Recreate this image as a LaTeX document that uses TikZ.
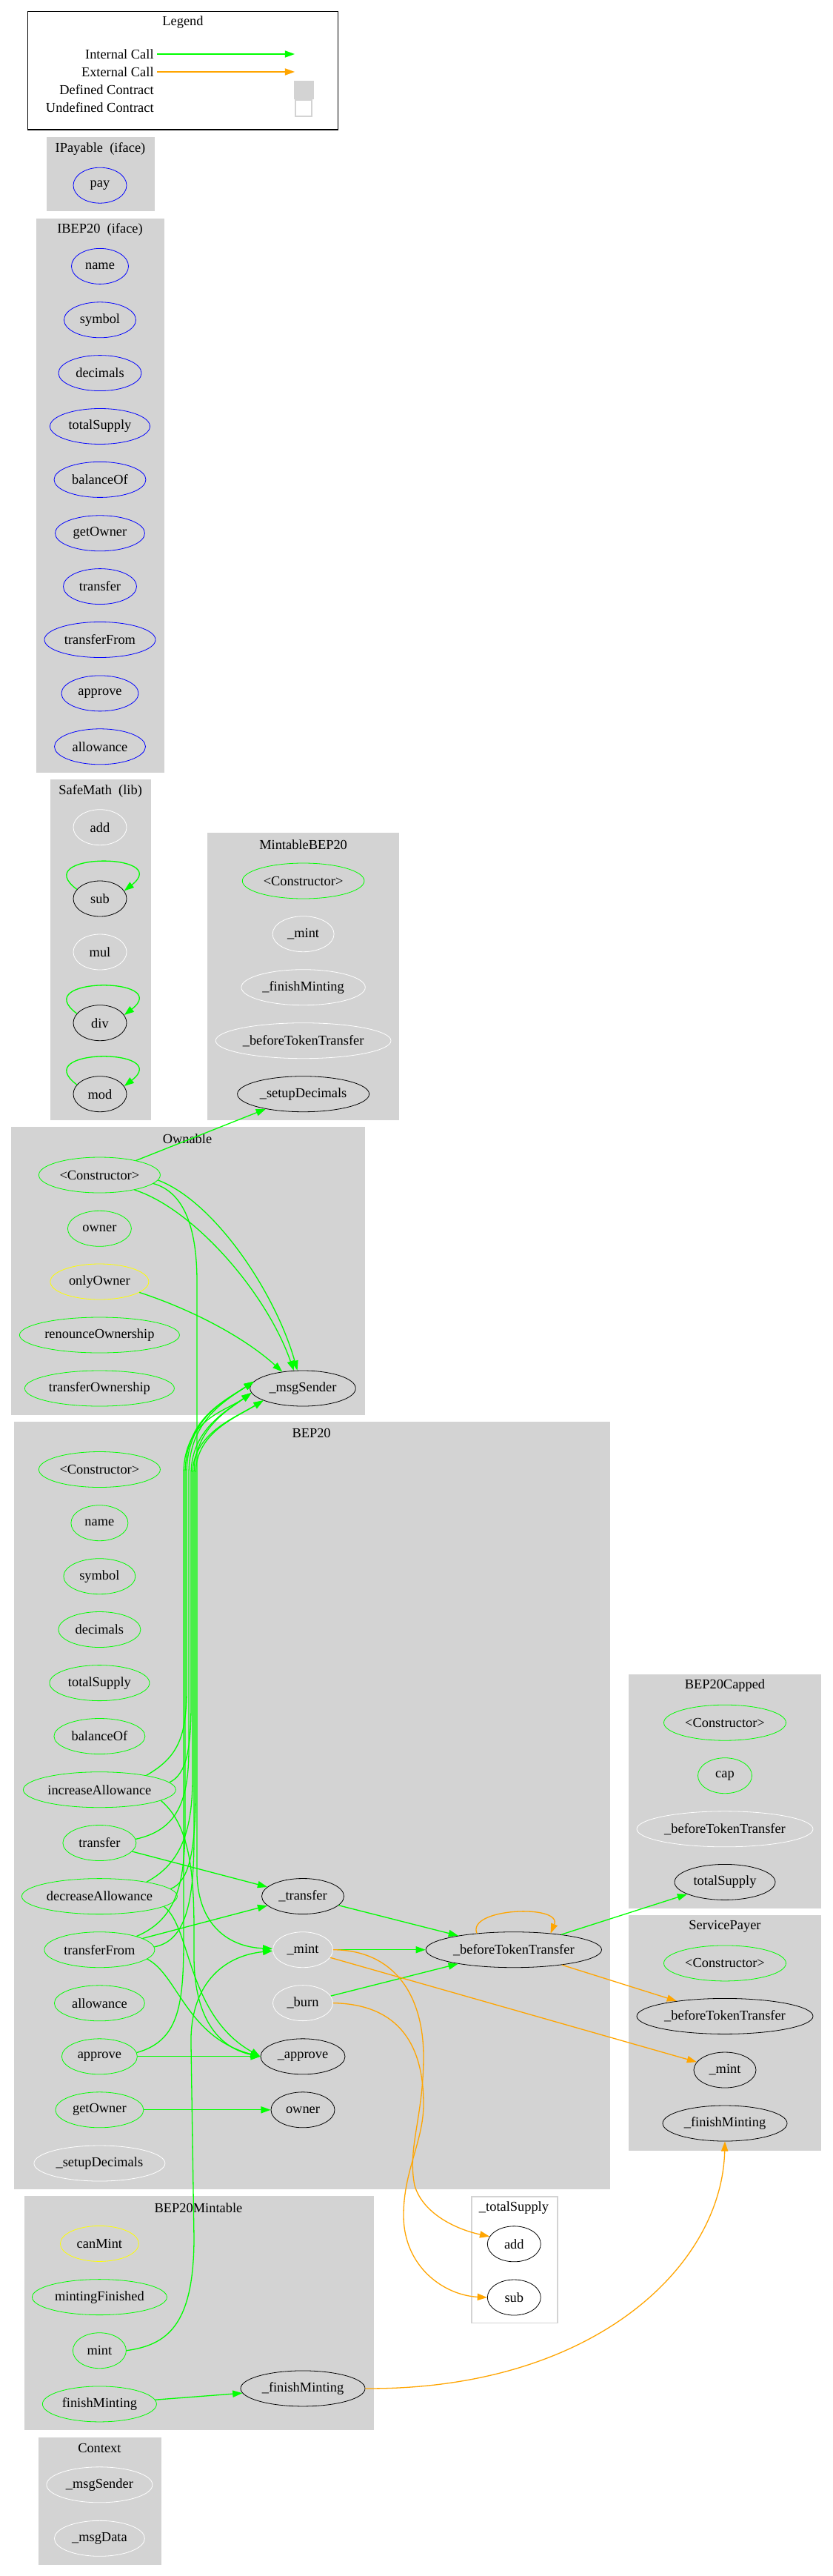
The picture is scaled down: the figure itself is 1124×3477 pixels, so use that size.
\documentclass[tikz,border=0pt]{standalone}
\usepackage{fontspec}
\setmainfont{Liberation Serif}
\usepackage{xcolor}
\usepackage{tikz}
\usetikzlibrary{shapes.geometric,arrows.meta}
\definecolor{GvGreen}{HTML}{00FF00}
\definecolor{GvOrange}{HTML}{FFA500}
\definecolor{GvBlue}{HTML}{0000FF}
\definecolor{GvYellow}{HTML}{FFFF00}
\definecolor{GvGray}{HTML}{D3D3D3}
\newcommand{\gvfont}{\fontsize{9.2pt}{11pt}\selectfont}

\begin{document}
\begin{tikzpicture}[x=0.5pt,y=-0.5pt,
    every node/.style={font=\gvfont},
    fn/.style={ellipse,draw,inner sep=0pt,minimum height=24pt},
    ttl/.style={inner sep=0pt},
    cluster/.style={fill=GvGray,draw=GvGray},
    call/.style={-{Triangle[length=6.6pt,width=4.6pt]},draw=GvGreen,line width=0.65pt},
    ext/.style={call,draw=GvOrange}]
  \fill[white] (0,0) rectangle (1124,3477);
  \useasboundingbox (0,0) rectangle (1124,3477);

  % legend
  \draw[line width=0.7pt] (37.7,15.7) rectangle (456.7,175);
  \node[ttl] (lg-title) at (247,30) {Legend};
  \node[ttl,anchor=east] (lg-int) at (208,73) {Internal Call};
  \node[ttl,anchor=east] (lg-ext) at (208,97) {External Call};
  \node[ttl,anchor=east] (lg-def) at (208,121) {Defined Contract};
  \node[ttl,anchor=east] (lg-undef) at (208,145) {Undefined Contract};
  \coordinate (lg-int-a) at (212,73); \coordinate (lg-int-b) at (398,73);
  \coordinate (lg-ext-a) at (212,97); \coordinate (lg-ext-b) at (398,97);
  \draw[call] (lg-int-a) -- (lg-int-b);
  \draw[ext] (lg-ext-a) -- (lg-ext-b);
  \draw[cluster] (397,109) rectangle (423,133);
  \draw[draw=GvGray,line width=0.8pt] (399,135) rectangle (421,157);

  % clusters
  \draw[cluster] (63,185.5) rectangle (208,284.8);
  \draw[cluster] (49,295) rectangle (221,1042);
  \draw[cluster] (67.9,1052.7) rectangle (203.6,1511.7);
  \draw[cluster] (280.4,1124.3) rectangle (538.6,1511.7);
  \draw[cluster] (15.2,1521.7) rectangle (492,1909.3);
  \draw[cluster] (19,1919.3) rectangle (823.8,2954.5);
  \draw[cluster] (33,2964.4) rectangle (504,3279.8);
  \draw[draw=GvGray,line width=0.8pt] (636.8,2965) rectangle (752.8,3135.6);
  \draw[cluster] (52,3290) rectangle (217.3,3461.3);
  \draw[cluster] (849.3,2260.7) rectangle (1108.3,2575.6);
  \draw[cluster] (849.3,2585.4) rectangle (1108.3,2902);

  \node[ttl] (t-ipay) at (135.5,200.8) {IPayable~~(iface)};
  \node[ttl] (t-ibep) at (135,310) {IBEP20~~(iface)};
  \node[ttl] (t-safe) at (135.7,1068.3) {SafeMath~~(lib)};
  \node[ttl] (t-mbep) at (409.6,1140) {MintableBEP20};
  \node[ttl] (t-own) at (253,1536.7) {Ownable};
  \node[ttl] (t-bep) at (420.6,1934) {BEP20};
  \node[ttl] (t-bmint) at (268,2980) {BEP20Mintable};
  \node[ttl] (t-tsup) at (694,2980.2) {\_totalSupply};
  \node[ttl] (t-ctx) at (134.4,3304.8) {Context};
  \node[ttl] (t-cap) at (979,2275.3) {BEP20Capped};
  \node[ttl] (t-pay) at (979,2600.5) {ServicePayer};

  % IPayable, IBEP20
  \node[fn,draw=GvBlue,minimum width=36pt] (ip-pay) at (135,250.2) {pay};
  \node[fn,draw=GvBlue,minimum width=38.5pt] (ib-name) at (135,359.4) {name};
  \node[fn,draw=GvBlue,minimum width=48.5pt] (ib-symbol) at (135,431.8) {symbol};
  \node[fn,draw=GvBlue,minimum width=56pt] (ib-decimals) at (135,503.6) {decimals};
  \node[fn,draw=GvBlue,minimum width=67.5pt] (ib-totalSupply) at (135,575.5) {totalSupply};
  \node[fn,draw=GvBlue,minimum width=62pt] (ib-balanceOf) at (135,647.4) {balanceOf};
  \node[fn,draw=GvBlue,minimum width=60.5pt] (ib-getOwner) at (135,719.8) {getOwner};
  \node[fn,draw=GvBlue,minimum width=49.5pt] (ib-transfer) at (135,791.6) {transfer};
  \node[fn,draw=GvBlue,minimum width=75pt] (ib-transferFrom) at (135,863.5) {transferFrom};
  \node[fn,draw=GvBlue,minimum width=52pt] (ib-approve) at (135,935.9) {approve};
  \node[fn,draw=GvBlue,minimum width=61.5pt] (ib-allowance) at (135,1007.8) {allowance};

  % SafeMath
  \node[fn,draw=white,minimum width=36pt] (sm-add) at (135,1116.7) {add};
  \node[fn,minimum width=36pt] (sm-sub) at (135,1213) {sub};
  \node[fn,draw=white,minimum width=36pt] (sm-mul) at (135,1285) {mul};
  \node[fn,minimum width=36pt] (sm-div) at (135,1380.7) {div};
  \node[fn,minimum width=36pt] (sm-mod) at (135,1476.7) {mod};

  % MintableBEP20
  \node[fn,draw=GvGreen,minimum width=82.3pt] (mb-ctor) at (409.6,1189) {<Constructor>};
  \node[fn,draw=white,minimum width=41.5pt] (mb-mint) at (409.6,1260.7) {\_mint};
  \node[fn,draw=white,minimum width=83.7pt] (mb-finish) at (409.6,1332.7) {\_finishMinting};
  \node[fn,draw=white,minimum width=118.4pt] (mb-btt) at (409.6,1404.7) {\_beforeTokenTransfer};
  \node[fn,minimum width=89pt] (mb-setup) at (409.6,1476.7) {\_setupDecimals};

  % Ownable
  \node[fn,draw=GvGreen,minimum width=82pt] (ow-ctor) at (134.4,1586) {<Constructor>};
  \node[fn,draw=GvGreen,minimum width=43pt] (ow-owner) at (134.4,1658.3) {owner};
  \node[fn,draw=GvYellow,minimum width=66.5pt] (ow-only) at (134.4,1730) {onlyOwner};
  \node[fn,draw=GvGreen,minimum width=108pt] (ow-renounce) at (134.4,1802) {renounceOwnership};
  \node[fn,draw=GvGreen,minimum width=101pt] (ow-transfer) at (134.4,1874) {transferOwnership};
  \node[fn,minimum width=71.3pt] (ow-msg) at (409,1874) {\_msgSender};

  % BEP20
  \node[fn,draw=GvGreen,minimum width=82pt] (b-ctor) at (134.4,1983.5) {<Constructor>};
  \node[fn,draw=GvGreen,minimum width=38.5pt] (b-name) at (134.4,2055.7) {name};
  \node[fn,draw=GvGreen,minimum width=48.5pt] (b-symbol) at (134.4,2127.7) {symbol};
  \node[fn,draw=GvGreen,minimum width=55.5pt] (b-decimals) at (134.4,2199.5) {decimals};
  \node[fn,draw=GvGreen,minimum width=67.5pt] (b-totalSupply) at (134.4,2271.6) {totalSupply};
  \node[fn,draw=GvGreen,minimum width=61.5pt] (b-balanceOf) at (134.4,2343.5) {balanceOf};
  \node[fn,draw=GvGreen,minimum width=103pt] (b-incA) at (134.4,2415.7) {increaseAllowance};
  \node[fn,draw=GvGreen,minimum width=49.5pt] (b-transfer) at (134.4,2487.5) {transfer};
  \node[fn,draw=GvGreen,minimum width=105pt] (b-decA) at (134.4,2559.6) {decreaseAllowance};
  \node[fn,draw=GvGreen,minimum width=74.5pt] (b-transferFrom) at (134.4,2631.7) {transferFrom};
  \node[fn,draw=GvGreen,minimum width=61pt] (b-allowance) at (134.4,2703.8) {allowance};
  \node[fn,draw=GvGreen,minimum width=51pt] (b-approve) at (134.4,2775.8) {approve};
  \node[fn,draw=GvGreen,minimum width=59.5pt] (b-getOwner) at (134.4,2847.8) {getOwner};
  \node[fn,draw=white,minimum width=88.5pt] (b-setup) at (134.4,2920) {\_setupDecimals};
  \node[fn,minimum width=55.5pt] (b-ptransfer) at (409,2559.5) {\_transfer};
  \node[fn,draw=white,minimum width=40.5pt] (b-pmint) at (409,2631.7) {\_mint};
  \node[fn,draw=white,minimum width=40.5pt] (b-pburn) at (409,2703.6) {\_burn};
  \node[fn,minimum width=57pt] (b-papprove) at (409,2775.8) {\_approve};
  \node[fn,minimum width=43pt] (b-powner) at (409,2847.8) {owner};
  \node[fn,minimum width=118.7pt] (b-pbtt) at (693.8,2631.7) {\_beforeTokenTransfer};

  % BEP20Mintable
  \node[fn,draw=GvYellow,minimum width=53pt] (bm-canMint) at (134.4,3028.4) {canMint};
  \node[fn,draw=GvGreen,minimum width=91pt] (bm-mintingFinished) at (134.4,3100.6) {mintingFinished};
  \node[fn,draw=GvGreen,minimum width=36pt] (bm-mint) at (134.4,3172.7) {mint};
  \node[fn,draw=GvGreen,minimum width=77pt] (bm-finish) at (134.4,3244.9) {finishMinting};
  \node[fn,minimum width=84pt] (bm-pfinish) at (409,3223.9) {\_finishMinting};

  % _totalSupply, Context
  \node[fn,minimum width=36pt] (ts-add) at (694.3,3028.8) {add};
  \node[fn,minimum width=36pt] (ts-sub) at (694.3,3101) {sub};
  \node[fn,draw=white,minimum width=71.5pt] (cx-msgSender) at (134.4,3353.8) {\_msgSender};
  \node[fn,draw=white,minimum width=61pt] (cx-msgData) at (134.4,3426.3) {\_msgData};

  % BEP20Capped, ServicePayer
  \node[fn,draw=GvGreen,minimum width=82.5pt] (bc-ctor) at (979,2325.2) {<Constructor>};
  \node[fn,draw=GvGreen,minimum width=36.5pt] (bc-cap) at (979,2396.7) {cap};
  \node[fn,draw=white,minimum width=119pt] (bc-btt) at (979,2468.8) {\_beforeTokenTransfer};
  \node[fn,minimum width=68pt] (bc-totalSupply) at (979,2540.4) {totalSupply};
  \node[fn,draw=GvGreen,minimum width=82.5pt] (sp-ctor) at (979,2649.9) {<Constructor>};
  \node[fn,minimum width=119pt] (sp-btt) at (979,2721.4) {\_beforeTokenTransfer};
  \node[fn,minimum width=42pt] (sp-mint) at (979,2794) {\_mint};
  \node[fn,minimum width=84pt] (sp-finish) at (979,2866) {\_finishMinting};

  % calls
  \draw[call] (sm-sub.158) .. controls +(-67,-50) and +(67,-52) .. (sm-sub.18);
  \draw[call] (sm-div.158) .. controls +(-67,-50) and +(67,-52) .. (sm-div.18);
  \draw[call] (sm-mod.158) .. controls +(-67,-50) and +(67,-52) .. (sm-mod.18);
  \draw[call] (ow-ctor) -- (mb-setup);
  \draw[call] (ow-ctor.-5) .. controls (290,1622) and (372,1745) .. (ow-msg.107);
  \draw[call] (ow-ctor.-23) .. controls (262,1632) and (360,1745) .. (ow-msg.117);
  \draw[call] (ow-only.-15) .. controls (260,1768) and (330,1805) .. (ow-msg.141);
  \draw[call] (ow-ctor.-9) .. controls (245,1608) and (266,1650) .. (266,1730) -- (266,2530)
    .. controls (268,2600) and (310,2628) .. (b-pmint.178);
  \draw[call] (bm-mint.east) .. controls (225,3165) and (262,3140) .. (262,3020) -- (258,2760)
    .. controls (256,2680) and (300,2640) .. (b-pmint.182);
  \draw[call] (b-incA.17) .. controls (240,2372) and (252,2345) .. (252,2280) -- (252,1990)
    .. controls (252,1915) and (300,1893) .. (ow-msg.172);
  \draw[call] (b-incA.6) .. controls (252,2395) and (258,2360) .. (258,2300) -- (258,1990)
    .. controls (258,1930) and (305,1905) .. (ow-msg.185);
  \draw[call] (b-transfer.6) .. controls (240,2470) and (255,2430) .. (255,2360) -- (255,1990)
    .. controls (255,1920) and (300,1893) .. (ow-msg.172);
  \draw[call] (b-decA.17) .. controls (245,2515) and (260,2470) .. (260,2400) -- (260,1990)
    .. controls (260,1935) and (315,1915) .. (ow-msg.197);
  \draw[call] (b-decA.6) .. controls (255,2540) and (264,2500) .. (264,2420) -- (264,1990)
    .. controls (264,1935) and (315,1915) .. (ow-msg.197);
  \draw[call] (b-transferFrom.20) .. controls (240,2590) and (250,2540) .. (250,2460) -- (250,1990)
    .. controls (250,1915) and (300,1893) .. (ow-msg.172);
  \draw[call] (b-transferFrom.3) .. controls (250,2620) and (262,2570) .. (262,2480) -- (262,1990)
    .. controls (262,1930) and (305,1905) .. (ow-msg.185);
  \draw[call] (b-approve.6) .. controls (240,2755) and (248,2710) .. (248,2620) -- (248,1990)
    .. controls (248,1915) and (305,1905) .. (ow-msg.185);
  \draw[call] (b-incA.-10) .. controls (265,2470) and (262,2560) .. (262,2640)
    .. controls (262,2730) and (300,2765) .. (b-papprove.west);
  \draw[call] (b-decA.-9) .. controls (258,2600) and (252,2720) .. (b-papprove.west);
  \draw[call] (b-transferFrom.-11) .. controls (240,2665) and (252,2750) .. (b-papprove.west);
  \draw[call] (b-approve) -- (b-papprove);
  \draw[call] (b-transfer) -- (b-ptransfer);
  \draw[call] (b-transferFrom) -- (b-ptransfer);
  \draw[call] (b-getOwner) -- (b-powner);
  \draw[call] (b-ptransfer) -- (b-pbtt);
  \draw[call] (b-pmint) -- (b-pbtt);
  \draw[call] (b-pburn) -- (b-pbtt);
  \draw[call] (b-pbtt) -- (bc-totalSupply);
  \draw[call] (bm-finish) -- (bm-pfinish);
  \draw[ext] (b-pbtt.156) .. controls (630,2575) and (760,2570) .. (b-pbtt.24);
  \draw[ext] (b-pbtt) -- (sp-btt);
  \draw[ext] (b-pmint) -- (sp-mint);
  \draw[ext] (b-pmint.east) .. controls (530,2632) and (573,2690) .. (572,2780)
    .. controls (571,2860) and (550,2900) .. (560,2950)
    .. controls (572,2990) and (620,3010) .. (ts-add.163);
  \draw[ext] (b-pburn.east) .. controls (530,2705) and (572,2750) .. (572,2840)
    .. controls (572,2890) and (545,2930) .. (545,2990)
    .. controls (545,3060) and (600,3098) .. (ts-sub.west);
  \draw[ext] (bm-pfinish.east) .. controls (800,3226) and (975,3060) .. (sp-finish.south);
\end{tikzpicture}
\end{document}
